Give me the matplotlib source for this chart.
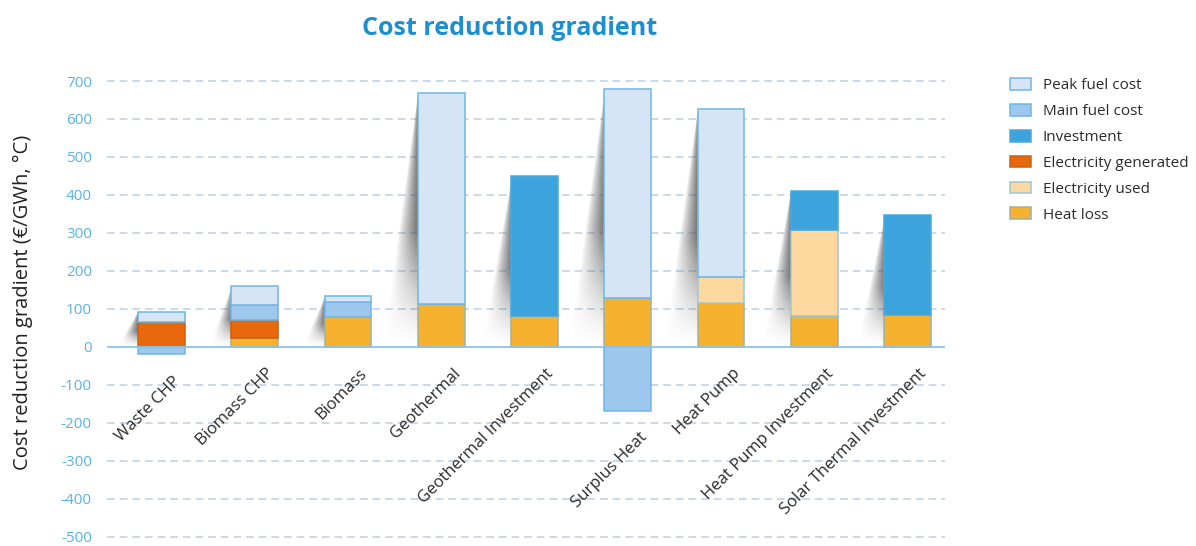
import numpy as np
import matplotlib
matplotlib.use("Agg")
import matplotlib.pyplot as plt
from matplotlib.patches import Patch, Polygon

plt.rcParams['font.family'] = ['Open Sans', 'DejaVu Sans']

categories = ["Waste CHP", "Biomass CHP", "Biomass", "Geothermal",
              "Geothermal Investment", "Surplus Heat", "Heat Pump",
              "Heat Pump Investment", "Solar Thermal Investment"]

# segment sizes (stacked from zero upward; negative values go below zero)
heat_loss = [0, 24, 79, 113, 82, 128, 115, 82, 84]
electricity_used = [0, 0, 0, 0, 0, 0, 68, 225, 0]
electricity_generated = [65, 46, 0, 0, 0, 0, 0, 0, 0]
investment = [0, 0, 0, 0, 368, 0, 0, 102, 263]
main_fuel_cost = [-20, 41, 40, 0, 0, -168, 0, 0, 0]
peak_fuel_cost = [27, 48, 14, 555, 0, 552, 444, 0, 0]

yticks = [700, 600, 500, 400, 300, 200, 100, 0, -100, -200, -300, -400, -500]

series = [
    ("Heat loss", heat_loss, "#f6b22f", "#9fb2a0"),
    ("Electricity used", electricity_used, "#fdd9a0", "#9cc9d8"),
    ("Electricity generated", electricity_generated, "#e8680c", "#d0600c"),
    ("Investment", investment, "#3da3dc", "#4aa9de"),
    ("Main fuel cost", main_fuel_cost, "#9dc7ec", "#6db7e4"),
    ("Peak fuel cost", peak_fuel_cost, "#d5e5f6", "#6db7e4"),
]

fig = plt.figure(figsize=(11.96, 5.46), dpi=100)
ax = fig.add_axes([0.0895, 0.014, 0.7007, 0.8585])
ax.set_xlim(-0.584, 8.402)
ax.set_ylim(-504.7, 730)

x = np.arange(len(categories))
width = 0.5

# grid
for t in yticks:
    if t == 0:
        continue
    ax.axhline(t, color="#c9dcec", lw=1.4, ls=(0, (4, 2.5)), zorder=0)
ax.axhline(0, color="#8cc4e8", lw=1.3, zorder=4)

# totals for shadows
pos_tot = np.zeros(len(categories))
neg_tot = np.zeros(len(categories))
for _, vals, _, _ in series:
    v = np.array(vals, float)
    pos_tot += np.where(v > 0, v, 0)
    neg_tot += np.where(v < 0, v, 0)

# soft drop shadows to the left of bars
for i in range(len(categories)):
    T = pos_tot[i]
    if T <= 0:
        continue
    xl = x[i] - width / 2
    s = 0.2 + T * 0.00026
    ny, nx = 240, 140
    yy = np.linspace(0, T, ny)[:, None]
    xx = np.linspace(xl - s, xl, nx)[None, :]
    w = s * (1 - yy / T) + 1e-9
    u = np.clip((xl - xx) / w, 0, 1)
    vert = np.clip(yy / T * 2.2, 0, 1) ** 1.4
    alpha = 0.8 * (1 - u) ** 0.8 * vert
    img = np.zeros((ny, nx, 4))
    img[..., 0] = 0.32
    img[..., 1] = 0.32
    img[..., 2] = 0.33
    img[..., 3] = np.clip(alpha, 0, 1)
    im = ax.imshow(img, extent=[xl - s, xl, 0, T], origin="lower",
                   aspect="auto", zorder=1, interpolation="bilinear")
    poly = Polygon([(xl, T), (xl - s, 0), (xl, 0)], closed=True,
                   transform=ax.transData, facecolor="none", edgecolor="none")
    ax.add_patch(poly)
    im.set_clip_path(poly)

# stacked bars
pb = np.zeros(len(categories))
nb = np.zeros(len(categories))
handles = {}
for name, vals, fc, ec in series:
    v = np.array(vals, float)
    bottoms = np.where(v >= 0, pb, nb)
    mask = v != 0
    ax.bar(x[mask], v[mask], width, bottom=bottoms[mask], color=fc,
           edgecolor=ec, linewidth=1.1, zorder=3)
    handles[name] = Patch(facecolor=fc, edgecolor=ec, linewidth=1.1)
    pb += np.where(v > 0, v, 0)
    nb += np.where(v < 0, v, 0)

# category labels (rotated, below lowest point of each bar)
for i, c in enumerate(categories):
    ylow = min(0, neg_tot[i])
    ax.text(x[i] + 0.12, ylow - 50, c, rotation=45, ha="right", va="top",
            rotation_mode="anchor", fontsize=12, color="#2b2b2b")

ax.set_xticks([])
ax.set_yticks(yticks)
ax.set_yticklabels([str(t) for t in yticks], color="#5bb3e4", fontsize=11)
ax.tick_params(axis="y", length=0, pad=11)
for sp in ax.spines.values():
    sp.set_visible(False)

fig.text(0.019, 0.447, "Cost reduction gradient (€/GWh, °C)", rotation=90,
         ha="center", va="center", fontsize=14.5, color="#222222")

fig.text(0.426, 0.948, "Cost reduction gradient", ha="center", va="center",
         fontsize=18, fontweight="bold", color="#1c8fd1")

order = ["Peak fuel cost", "Main fuel cost", "Investment",
         "Electricity generated", "Electricity used", "Heat loss"]
leg = fig.legend([handles[n] for n in order], order, loc="upper left",
                 bbox_to_anchor=(0.833, 0.882), frameon=False, fontsize=11,
                 handlelength=1.4, handleheight=0.8, labelspacing=0.7,
                 handletextpad=0.75)
for t in leg.get_texts():
    t.set_color("#2b2b2b")

fig.savefig("out.png", dpi=100)
